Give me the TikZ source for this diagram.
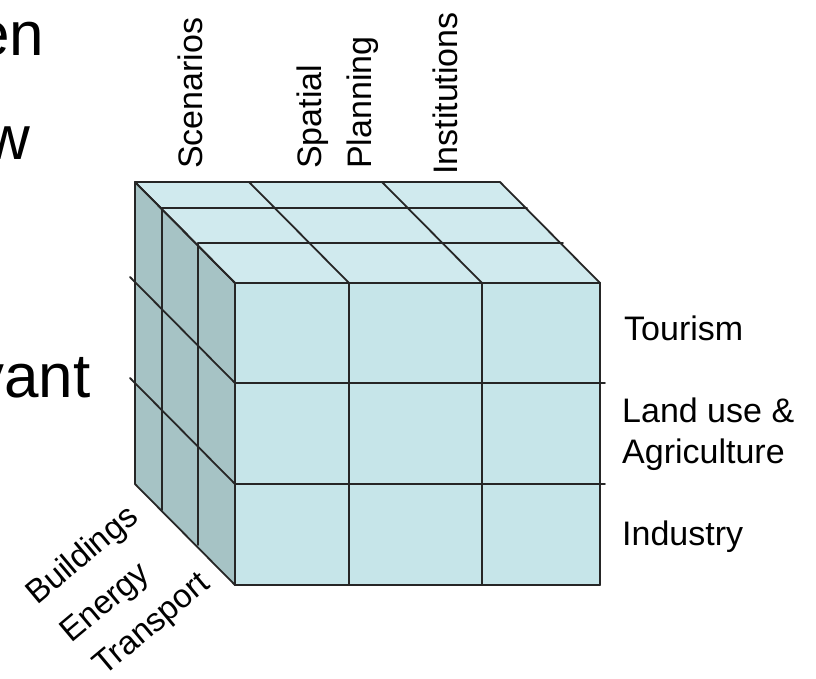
\documentclass[tikz,border=0pt]{standalone}
\usepackage{fontspec}
\setmainfont{Liberation Sans}
\usepackage{tikz}
\usetikzlibrary{positioning}

\definecolor{cubetop}{HTML}{D0EAEE}
\definecolor{cubefront}{HTML}{C6E5E9}
\definecolor{cubeside}{HTML}{A6C3C5}

\begin{document}
\begin{tikzpicture}[x=1pt,y=-1pt,
        cubeline/.style={draw=black!85,line width=1.8pt,line cap=round},
        toplbl/.style={rotate=90,anchor=base west,inner sep=0pt,
                       font=\fontsize{34}{41}\selectfont},
        sidelbl/.style={anchor=base west,inner sep=0pt,
                        font=\fontsize{34}{41}\selectfont},
        depthlbl/.style={rotate=40,anchor=base west,inner sep=0pt,
                         font=\fontsize{33}{40}\selectfont},
        slidetxt/.style={anchor=base west,inner sep=0pt,
                         font=\fontsize{62}{74}\selectfont}]

        \fill[white] (0,0) rectangle (816,679);
        \useasboundingbox (0,0) rectangle (816,679);

        % faces of the cube
        \fill[cubetop] (135,182) -- (500,182) -- (600,283) -- (235,283) -- cycle;
        \fill[cubeside] (135,182) -- (235,283) -- (235,585) -- (135,484) -- cycle;
        \fill[cubefront] (235,283) rectangle (600,585);

        % one slice per sector, back to front
        \foreach \x/\y in {135/182,162/208,198/243,235/283} {
            \draw[cubeline] (\x,\y) -- ++(365,0);
            \draw[cubeline] (\x,\y) -- ++(0,302);
        }
        % columns over the top and down the front
        \foreach \c in {0,114,247,365} {
            \draw[cubeline] (135+\c,182) -- (235+\c,283);
            \draw[cubeline] (235+\c,283) -- ++(0,302);
        }
        % rows round the side and the front
        \draw[cubeline] (135,182) -- (235,283) -- (600,283);
        \draw[cubeline] (130,277) -- (235,383) -- (605,383);
        \draw[cubeline] (130,378) -- (235,484) -- (605,484);
        \draw[cubeline] (135,484) -- (235,585) -- (600,585);

        % leftover slide text
        \node[slidetxt] (ln1) at (-25,56) {en};
        \node[slidetxt] (ln2) at (-15,160) {w};
        \node[slidetxt] (ln3) at (-27,397) {vant};

        % instruments
        \node[toplbl] (scen) at (202,169) {Scenarios};
        \node[toplbl] (spat) at (321,169) {Spatial};
        \node[toplbl] (plan) at (371,169) {Planning};
        \node[toplbl] (inst) at (457,175) {Institutions};

        % sectors
        \node[sidelbl] (tour) at (624,340) {Tourism};
        \node[sidelbl] (land) at (622,422) {Land use \&};
        \node[sidelbl] (agri) at (622,463) {Agriculture};
        \node[sidelbl] (indu) at (622,545) {Industry};

        % themes
        \node[depthlbl] (bldg) at (37,606) {Buildings};
        \node[depthlbl] (enrg) at (71,644) {Energy};
        \node[depthlbl] (trsp) at (104,677) {Transport};
\end{tikzpicture}
\end{document}
